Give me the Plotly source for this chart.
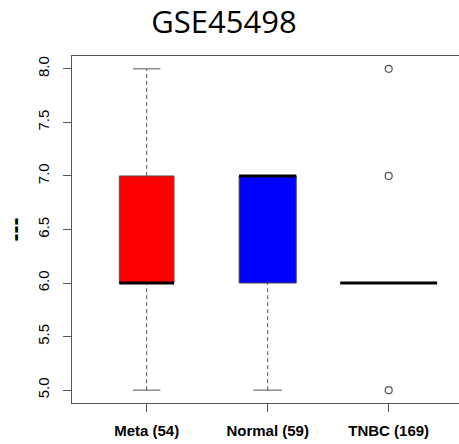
import plotly.graph_objects as go
import numpy as np

# ---- data ----
categories = ["Meta (54)", "Normal (59)", "TNBC (169)"]
counts = [54, 59, 169]
lower_whisker = [5.0, 5.0, 6.0]
q1 = [6.0, 6.0, 6.0]
median = [6.0, 7.0, 6.0]
q3 = [7.0, 7.0, 6.0]
upper_whisker = [8.0, 7.0, 6.0]
outlier_group = [3, 3, 3]
outlier_values = [8.0, 7.0, 5.0]
box_colors = ["#ff0000", "#0000ff", "#ffffff"]
y_ticks = [5.0, 5.5, 6.0, 6.5, 7.0, 7.5, 8.0]

# ---- geometry derived from data (R-style varwidth boxplot) ----
pos = np.arange(1, len(categories) + 1)
sq = np.sqrt(counts)
widths = 0.8 * sq / sq.max()
edge = "#555555"

W, H = 459, 444
L, T, B = 72, 56, 41
PLOT_W = W - L

fig = go.Figure()

# boxes
fig.add_trace(go.Bar(
    x=pos, base=q1, y=np.array(q3) - np.array(q1), width=widths,
    marker=dict(color=box_colors, line=dict(color=edge, width=1)),
    hoverinfo="skip", showlegend=False))

# whiskers (dashed)
wx, wy = [], []
for p, lo, a, b, hi in zip(pos, lower_whisker, q1, q3, upper_whisker):
    if hi > b:
        wx += [p, p, None]; wy += [b, hi, None]
    if lo < a:
        wx += [p, p, None]; wy += [lo, a, None]
fig.add_trace(go.Scatter(x=wx, y=wy, mode="lines",
                         line=dict(color=edge, width=1, dash="4px,3px"),
                         hoverinfo="skip", showlegend=False))

# staples
sx, sy = [], []
for p, w, lo, a, b, hi in zip(pos, widths, lower_whisker, q1, q3, upper_whisker):
    if hi > b:
        sx += [p - w / 4, p + w / 4, None]; sy += [hi, hi, None]
    if lo < a:
        sx += [p - w / 4, p + w / 4, None]; sy += [lo, lo, None]
fig.add_trace(go.Scatter(x=sx, y=sy, mode="lines",
                         line=dict(color=edge, width=1),
                         hoverinfo="skip", showlegend=False))

# medians
mx, my = [], []
for p, w, m in zip(pos, widths, median):
    mx += [p - w / 2, p + w / 2, None]; my += [m, m, None]
fig.add_trace(go.Scatter(x=mx, y=my, mode="lines",
                         line=dict(color="black", width=3),
                         hoverinfo="skip", showlegend=False))

# outliers
fig.add_trace(go.Scatter(x=outlier_group, y=outlier_values, mode="markers",
                         marker=dict(symbol="circle-open", size=7,
                                     color=edge, line=dict(width=1.2)),
                         hoverinfo="skip", showlegend=False))

fig.update_layout(
    width=W, height=H,
    margin=dict(l=L, r=0, t=T, b=B, pad=0),
    paper_bgcolor="white", plot_bgcolor="white",
    barmode="overlay",
    title=dict(text="GSE45498", x=224 / W, xref="container", xanchor="center",
               y=1 - 22.5 / H, yref="container", yanchor="middle",
               font=dict(family="Open Sans", size=31, color="black")),
    xaxis=dict(range=[0.383, 3.581], tickvals=list(pos), ticktext=categories,
               showgrid=False, zeroline=False, showline=True, mirror=True,
               linecolor=edge, linewidth=1, ticks="outside", ticklen=8,
               tickcolor=edge, ticklabelstandoff=6,
               tickfont=dict(family="Liberation Sans", size=15, color="black",
                             weight="bold")),
    yaxis=dict(range=[4.88, 8.12], tickvals=y_ticks,
               ticktext=[f"{v:.1f}" for v in y_ticks],
               showgrid=False, zeroline=False, showline=True, mirror=False,
               linecolor=edge, linewidth=1, ticks="outside", ticklen=8,
               tickcolor=edge, tickangle=-90, ticklabelstandoff=8,
               tickfont=dict(family="Liberation Sans", size=15, color="black")),
    annotations=[dict(text="<b>---</b>", x=(14 - L) / PLOT_W, xref="paper",
                      xanchor="center", y=0.5, yref="paper", yanchor="middle",
                      textangle=-90, showarrow=False,
                      font=dict(family="Liberation Sans", size=24, color="black"))],
)

fig.write_html("out.html",
               config={"displayModeBar": False},
               post_script="document.body.style.margin='0';document.body.style.overflow='hidden';")
